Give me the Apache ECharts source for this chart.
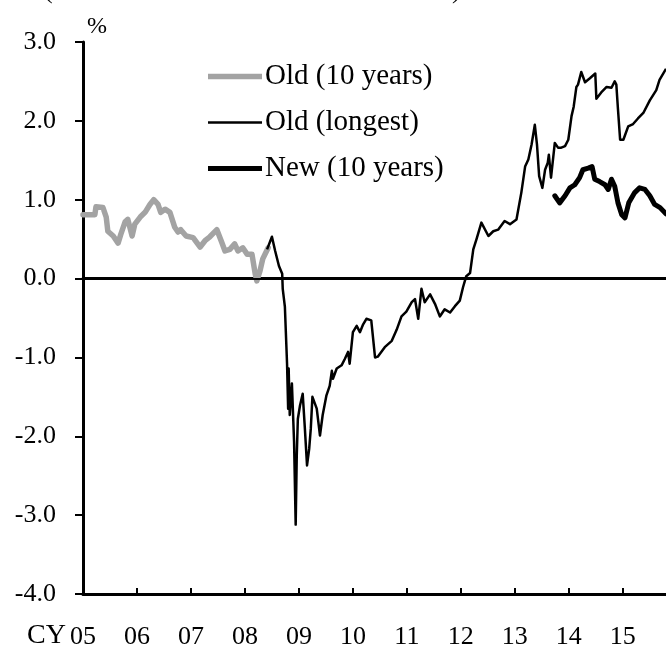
<!DOCTYPE html>
<html>
<head>
<meta charset="utf-8">
<script src="https://cdn.jsdelivr.net/npm/echarts@6/dist/echarts.min.js"></script>
<style>
  html, body { margin: 0; padding: 0; background: #fff; }
  #chart { width: 666px; height: 650px; }
</style>
</head>
<body>
<div id="chart"></div>
<script>
// Time positions are decimal calendar years; values in percent.
const yearTicks = [2005, 2006, 2007, 2008, 2009, 2010, 2011, 2012, 2013, 2014, 2015];
const yTicks = [-4, -3, -2, -1, 0, 1, 2, 3];

const seriesNames = ['Old (10 years)', 'Old (longest)', 'New (10 years)'];

const oldTenYears = [
  [2005.00, 0.81], [2005.22, 0.81], [2005.24, 0.91], [2005.37, 0.90], [2005.43, 0.78],
  [2005.46, 0.60], [2005.56, 0.54], [2005.65, 0.45], [2005.70, 0.56], [2005.78, 0.72],
  [2005.83, 0.75], [2005.91, 0.54], [2005.96, 0.69], [2006.06, 0.78], [2006.15, 0.84],
  [2006.24, 0.94], [2006.31, 1.00], [2006.39, 0.94], [2006.44, 0.84], [2006.52, 0.88],
  [2006.61, 0.84], [2006.70, 0.65], [2006.76, 0.59], [2006.81, 0.62], [2006.91, 0.54],
  [2007.04, 0.52], [2007.17, 0.40], [2007.26, 0.48], [2007.35, 0.53], [2007.48, 0.62],
  [2007.57, 0.46], [2007.63, 0.35], [2007.72, 0.37], [2007.81, 0.44], [2007.87, 0.35],
  [2007.96, 0.39], [2008.04, 0.31], [2008.13, 0.31], [2008.19, 0.06], [2008.22, -0.03],
  [2008.28, 0.10], [2008.33, 0.25], [2008.43, 0.39]
];

const oldLongest = [
  [2008.41, 0.37], [2008.50, 0.53], [2008.56, 0.35], [2008.63, 0.16], [2008.69, 0.06],
  [2008.70, -0.13], [2008.74, -0.36], [2008.78, -1.08], [2008.80, -1.65], [2008.81, -1.14],
  [2008.83, -1.73], [2008.87, -1.33], [2008.91, -2.07], [2008.94, -3.12], [2008.96, -2.24],
  [2008.98, -1.78], [2009.02, -1.61], [2009.07, -1.46], [2009.11, -1.90], [2009.15, -2.37],
  [2009.19, -2.16], [2009.22, -1.90], [2009.25, -1.50], [2009.33, -1.65], [2009.39, -1.99],
  [2009.44, -1.73], [2009.51, -1.48], [2009.57, -1.36], [2009.61, -1.17], [2009.63, -1.27],
  [2009.70, -1.14], [2009.79, -1.10], [2009.85, -1.02], [2009.91, -0.93], [2009.94, -1.08],
  [2010.00, -0.68], [2010.07, -0.60], [2010.13, -0.68], [2010.19, -0.58], [2010.25, -0.51],
  [2010.34, -0.53], [2010.41, -1.00], [2010.46, -0.99], [2010.59, -0.87], [2010.72, -0.79],
  [2010.81, -0.65], [2010.90, -0.48], [2010.99, -0.42], [2011.09, -0.30], [2011.15, -0.26],
  [2011.21, -0.51], [2011.27, -0.13], [2011.33, -0.30], [2011.43, -0.20], [2011.52, -0.32],
  [2011.61, -0.48], [2011.70, -0.39], [2011.80, -0.43], [2011.89, -0.35], [2011.98, -0.28],
  [2012.04, -0.11], [2012.10, 0.03], [2012.17, 0.07], [2012.23, 0.37], [2012.29, 0.50],
  [2012.38, 0.71], [2012.51, 0.54], [2012.60, 0.60], [2012.69, 0.62], [2012.81, 0.73],
  [2012.91, 0.69], [2013.03, 0.75], [2013.12, 1.09], [2013.19, 1.42], [2013.25, 1.51],
  [2013.31, 1.70], [2013.37, 1.95], [2013.41, 1.70], [2013.45, 1.30], [2013.51, 1.15],
  [2013.56, 1.38], [2013.61, 1.47], [2013.63, 1.57], [2013.67, 1.28], [2013.74, 1.72],
  [2013.80, 1.66], [2013.86, 1.66], [2013.93, 1.68], [2013.99, 1.76], [2014.05, 2.06],
  [2014.09, 2.18], [2014.14, 2.43], [2014.17, 2.46], [2014.23, 2.62], [2014.30, 2.49],
  [2014.39, 2.54], [2014.49, 2.60], [2014.51, 2.28], [2014.60, 2.36], [2014.70, 2.43],
  [2014.79, 2.42], [2014.85, 2.50], [2014.88, 2.46], [2014.91, 2.15], [2014.95, 1.76],
  [2015.01, 1.76], [2015.10, 1.93], [2015.19, 1.96], [2015.28, 2.03], [2015.38, 2.10],
  [2015.50, 2.26], [2015.62, 2.39], [2015.68, 2.52], [2015.80, 2.66]
];

const newTenYears = [
  [2013.74, 1.05], [2013.83, 0.96], [2013.93, 1.05], [2014.02, 1.15], [2014.11, 1.19],
  [2014.20, 1.28], [2014.26, 1.38], [2014.36, 1.40], [2014.43, 1.42], [2014.48, 1.26],
  [2014.57, 1.23], [2014.67, 1.19], [2014.73, 1.13], [2014.79, 1.26], [2014.85, 1.17],
  [2014.91, 0.96], [2014.98, 0.81], [2015.04, 0.77], [2015.11, 0.96], [2015.22, 1.09],
  [2015.31, 1.15], [2015.41, 1.13], [2015.50, 1.05], [2015.59, 0.94], [2015.69, 0.90],
  [2015.80, 0.82]
];

const FONT = 'Liberation Serif';
const X_MIN = yearTicks[0];
const X_MAX = 2015.8;

const GRAY = '#a3a3a3';
const W_OLD10 = 5.5;
const W_LONG = 2.5;
const W_NEW10 = 5;

// legend swatch: a flat bar as thick as the series line
const bar = h => 'path://M0 0H54V' + h + 'H0Z';

const chart = echarts.init(document.getElementById('chart'), null, { renderer: 'canvas' });

chart.setOption({
  animation: false,
  backgroundColor: '#ffffff',
  textStyle: { fontFamily: FONT, color: '#000' },
  grid: { left: 83, right: 0, top: 42, bottom: 54, containLabel: false },
  legend: {
    left: 208,
    top: 62,
    padding: 0,
    orient: 'vertical',
    itemWidth: 54,
    itemHeight: 14,
    itemGap: 17,
    data: [
      { name: seriesNames[0], icon: bar(W_OLD10) },
      { name: seriesNames[1], icon: bar(W_LONG) },
      { name: seriesNames[2], icon: bar(W_NEW10) }
    ],
    textStyle: { fontFamily: FONT, fontSize: 29, color: '#000', padding: [0, 0, 0, -2] }
  },
  xAxis: [{
    type: 'value',
    min: X_MIN,
    max: X_MAX,
    interval: 1,
    axisLine: { show: true, onZero: false, lineStyle: { color: '#000', width: 3 } },
    axisTick: { show: true, inside: true, length: 6, lineStyle: { color: '#000', width: 2 } },
    axisLabel: {
      margin: 30,
      fontFamily: FONT, fontSize: 26, color: '#000',
      showMaxLabel: false,
      formatter: v => (yearTicks.includes(v) ? String(v).slice(2) : '')
    },
    splitLine: { show: false }
  }, {
    type: 'value',
    position: 'top',
    min: X_MIN,
    max: X_MAX,
    axisLine: { show: true, lineStyle: { color: '#000', width: 3 } },
    axisTick: { show: false },
    axisLabel: { show: false },
    splitLine: { show: false }
  }],
  yAxis: {
    type: 'value',
    min: yTicks[0],
    max: yTicks[yTicks.length - 1],
    interval: 1,
    axisLine: { show: true, onZero: false, lineStyle: { color: '#000', width: 3 } },
    axisTick: { show: true, inside: false, length: 8, lineStyle: { color: '#000', width: 2 } },
    axisLabel: {
      margin: 27,
      fontFamily: FONT, fontSize: 26, color: '#000',
      formatter: v => v.toFixed(1)
    },
    splitLine: { show: false }
  },
  graphic: [
    { type: 'text', left: 87, top: 15, style: { text: '%', font: '24px "Liberation Serif"', fill: '#000' } },
    { type: 'text', left: 27, top: 622, style: { text: 'CY', font: '28px "Liberation Serif"', fill: '#000' } },
    { type: 'text', left: 44, top: -22, style: { text: '(', font: '26px "Liberation Serif"', fill: '#000' } },
    { type: 'text', left: 452, top: -22, style: { text: ')', font: '26px "Liberation Serif"', fill: '#000' } }
  ],
  series: [
    {
      name: seriesNames[0],
      type: 'line',
      data: oldTenYears,
      showSymbol: false,
      symbol: 'none',
      lineStyle: { color: GRAY, width: W_OLD10, join: 'round', cap: 'round' },
      itemStyle: { color: GRAY },
      z: 2,
      markLine: {
        silent: true,
        symbol: 'none',
        label: { show: false },
        lineStyle: { color: '#000', width: 2, type: 'solid' },
        data: [{ yAxis: 0 }]
      }
    },
    {
      name: seriesNames[1],
      type: 'line',
      data: oldLongest,
      showSymbol: false,
      symbol: 'none',
      lineStyle: { color: '#000', width: W_LONG, join: 'round' },
      itemStyle: { color: '#000' },
      z: 3
    },
    {
      name: seriesNames[2],
      type: 'line',
      data: newTenYears,
      showSymbol: false,
      symbol: 'none',
      lineStyle: { color: '#000', width: W_NEW10, join: 'round', cap: 'round' },
      itemStyle: { color: '#000' },
      z: 4
    }
  ]
});
</script>
</body>
</html>
